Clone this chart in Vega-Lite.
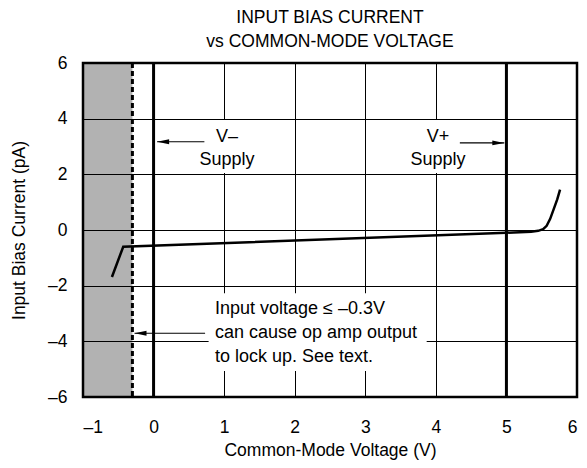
{
  "$schema": "https://vega.github.io/schema/vega-lite/v6.json",
  "width": 494,
  "height": 334,
  "autosize": {"type": "none"},
  "padding": {"left": 83, "top": 63, "right": 10, "bottom": 71},
  "background": "white",
  "title": {
    "text": ["INPUT BIAS CURRENT", "vs COMMON-MODE VOLTAGE"],
    "anchor": "middle",
    "font": "Liberation Sans",
    "fontSize": 17.5,
    "fontWeight": "normal",
    "color": "black",
    "lineHeight": 24,
    "offset": 4
  },
  "config": {
    "view": {"stroke": "black", "strokeWidth": 2.5},
    "axis": {
      "grid": true,
      "gridColor": "black",
      "gridOpacity": 1,
      "gridWidth": 1,
      "ticks": false,
      "domain": false,
      "labelFont": "Liberation Sans",
      "labelFontSize": 17.5,
      "labelColor": "black",
      "titleFont": "Liberation Sans",
      "titleFontSize": 17.5,
      "titleFontWeight": "normal",
      "titleColor": "black"
    }
  },
  "datasets": {
    "shade": [{"x": -1, "x2": -0.3, "y": -6, "y2": 6}],
    "boxes": [
      {"x": 0.62, "x2": 1.45, "y": 2.05, "y2": 3.95},
      {"x": 3.62, "x2": 4.3, "y": 2.05, "y2": 3.95},
      {"x": 0.78, "x2": 3.87, "y": -5.07, "y2": -2.27}
    ],
    "supply": [{"x": 0}, {"x": 5}],
    "limit": [{"x": -0.3}],
    "curve": [
      {"x": -0.59, "y": -1.69},
      {"x": -0.43, "y": -0.6},
      {"x": 5.0, "y": -0.1},
      {"x": 5.35, "y": -0.06},
      {"x": 5.45, "y": -0.03},
      {"x": 5.52, "y": 0.03},
      {"x": 5.57, "y": 0.15},
      {"x": 5.62, "y": 0.4},
      {"x": 5.67, "y": 0.75},
      {"x": 5.72, "y": 1.1},
      {"x": 5.76, "y": 1.45}
    ],
    "arrows": [
      {"x": 0.72, "x2": 0.05, "y": 3.17, "dir": "left"},
      {"x": 4.34, "x2": 4.97, "y": 3.13, "dir": "right"},
      {"x": 0.73, "x2": -0.27, "y": -3.71, "dir": "left"}
    ],
    "labels": [
      {"x": 1.04, "y": 3.35, "text": "V–"},
      {"x": 1.04, "y": 2.52, "text": "Supply"},
      {"x": 4.03, "y": 3.35, "text": "V+"},
      {"x": 4.03, "y": 2.52, "text": "Supply"}
    ],
    "note": [
      {"x": 0.87, "y": -2.84, "text": "Input voltage ≤ –0.3V"},
      {"x": 0.87, "y": -3.71, "text": "can cause op amp output"},
      {"x": 0.87, "y": -4.57, "text": "to lock up. See text."}
    ]
  },
  "layer": [
    {
      "data": {"name": "shade"},
      "mark": {"type": "rect", "fill": "black", "opacity": 0.3},
      "encoding": {
        "x": {
          "field": "x", "type": "quantitative",
          "scale": {"domain": [-1, 6], "nice": false, "zero": false},
          "title": "Common-Mode Voltage (V)",
          "axis": {
            "values": [-1, 0, 1, 2, 3, 4, 5, 6],
            "labelPadding": 21,
            "titlePadding": 6,
            "labelExpr": "datum.value < 0 ? '–' + abs(datum.value) : '' + datum.value"
          }
        },
        "x2": {"field": "x2"},
        "y": {
          "field": "y", "type": "quantitative",
          "scale": {"domain": [-6, 6], "nice": false, "zero": false},
          "title": "Input Bias Current (pA)",
          "axis": {
            "values": [-6, -4, -2, 0, 2, 4, 6],
            "labelPadding": 16,
            "titlePadding": 19,
            "labelExpr": "datum.value < 0 ? '–' + abs(datum.value) : '' + datum.value"
          }
        },
        "y2": {"field": "y2"}
      }
    },
    {
      "data": {"name": "boxes"},
      "mark": {"type": "rect", "fill": "white"},
      "encoding": {
        "x": {"field": "x", "type": "quantitative", "title": "Common-Mode Voltage (V)"},
        "x2": {"field": "x2"},
        "y": {"field": "y", "type": "quantitative", "title": "Input Bias Current (pA)"},
        "y2": {"field": "y2"}
      }
    },
    {
      "data": {"name": "supply"},
      "mark": {"type": "rule", "color": "black", "strokeWidth": 3},
      "encoding": {
        "x": {"field": "x", "type": "quantitative", "title": "Common-Mode Voltage (V)"}
      }
    },
    {
      "data": {"name": "limit"},
      "mark": {"type": "rule", "color": "black", "strokeWidth": 3, "strokeDash": [5, 3]},
      "encoding": {
        "x": {"field": "x", "type": "quantitative", "title": "Common-Mode Voltage (V)"}
      }
    },
    {
      "data": {"name": "curve"},
      "mark": {"type": "line", "color": "black", "strokeWidth": 2.5},
      "encoding": {
        "x": {"field": "x", "type": "quantitative", "title": "Common-Mode Voltage (V)"},
        "y": {"field": "y", "type": "quantitative", "title": "Input Bias Current (pA)"}
      }
    },
    {
      "data": {"name": "arrows"},
      "mark": {"type": "rule", "color": "black", "strokeWidth": 1.2},
      "encoding": {
        "x": {"field": "x", "type": "quantitative", "title": "Common-Mode Voltage (V)"},
        "x2": {"field": "x2"},
        "y": {"field": "y", "type": "quantitative", "title": "Input Bias Current (pA)"}
      }
    },
    {
      "data": {"name": "arrows"},
      "mark": {"type": "point", "filled": true, "color": "black", "opacity": 1, "size": 144, "strokeWidth": 0},
      "encoding": {
        "x": {"field": "x2", "type": "quantitative", "title": "Common-Mode Voltage (V)"},
        "y": {"field": "y", "type": "quantitative", "title": "Input Bias Current (pA)"},
        "shape": {
          "field": "dir", "type": "nominal", "legend": null,
          "scale": {"domain": ["left", "right"], "range": ["M 0 0 L 2 -0.4 L 2 0.4 Z", "M 0 0 L -2 -0.4 L -2 0.4 Z"]}
        }
      }
    },
    {
      "data": {"name": "labels"},
      "mark": {"type": "text", "font": "Liberation Sans", "fontSize": 18, "color": "black", "align": "center", "baseline": "middle"},
      "encoding": {
        "x": {"field": "x", "type": "quantitative", "title": "Common-Mode Voltage (V)"},
        "y": {"field": "y", "type": "quantitative", "title": "Input Bias Current (pA)"},
        "text": {"field": "text"}
      }
    },
    {
      "data": {"name": "note"},
      "mark": {"type": "text", "font": "Liberation Sans", "fontSize": 18, "color": "black", "align": "left", "baseline": "middle"},
      "encoding": {
        "x": {"field": "x", "type": "quantitative", "title": "Common-Mode Voltage (V)"},
        "y": {"field": "y", "type": "quantitative", "title": "Input Bias Current (pA)"},
        "text": {"field": "text"}
      }
    }
  ]
}
